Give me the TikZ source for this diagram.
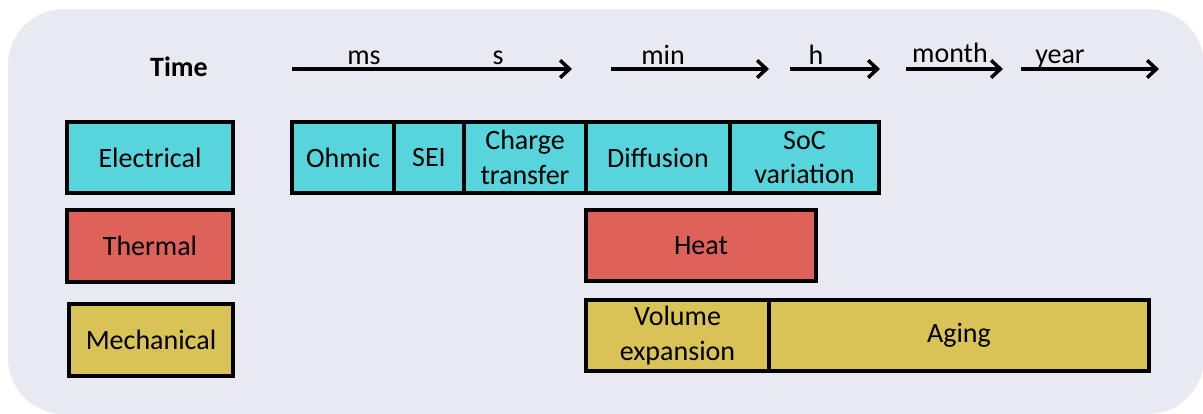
\documentclass[tikz,border=0pt]{standalone}
\usepackage{fontspec}
\setmainfont{Carlito}
\usetikzlibrary{arrows.meta}
\definecolor{bgc}{HTML}{E9E9F1}
\definecolor{elec}{HTML}{58D4DC}
\definecolor{therm}{HTML}{DE615A}
\definecolor{mech}{HTML}{D9C256}
\newcommand\rbox[7]{%
  \pgfmathsetmacro\bxcx{(#3+#5)/2}%
  \pgfmathsetmacro\bxcy{(#4+#6)/2}%
  \pgfmathsetmacro\bxw{(#5-#3)*0.75}%
  \pgfmathsetmacro\bxh{(#6-#4)*0.75}%
  \node[boxst, fill=#2, minimum width=\bxw pt, minimum height=\bxh pt] (#1) at (\bxcx,\bxcy) {#7};}
\begin{document}
\begin{tikzpicture}[x=0.75pt,y=-0.75pt,
  boxst/.style={draw=black, line width=2.3pt, inner sep=0pt, outer sep=0pt, align=center, font=\fontsize{21}{26}\selectfont},
  lbl/.style={anchor=base, inner sep=0pt, font=\fontsize{21}{26}\selectfont},
  tarrow/.style={draw=black, line width=2.6pt, -{Straight Barb[length=7pt,width=13pt]}}]
\useasboundingbox (0,0) rectangle (1203,414);
\fill[bgc, rounded corners=42pt] (8,9) rectangle (1204,414);
% title
\node[lbl, font=\fontsize{21}{26}\selectfont\bfseries] (time) at (179,76) {Time};
% timeline arrows
\coordinate (a1s) at (292,69); \coordinate (a1e) at (572,69);
\coordinate (a2s) at (611,69); \coordinate (a2e) at (769,69);
\coordinate (a3s) at (790,69); \coordinate (a3e) at (880,69);
\coordinate (a4s) at (906,69); \coordinate (a4e) at (1003,69);
\coordinate (a5s) at (1021,69); \coordinate (a5e) at (1159,69);
\draw[tarrow] (a1s) -- (a1e);
\draw[tarrow] (a2s) -- (a2e);
\draw[tarrow] (a3s) -- (a3e);
\draw[tarrow] (a4s) -- (a4e);
\draw[tarrow] (a5s) -- (a5e);
\node[lbl] (tms) at (364,64) {ms};
\node[lbl] (ts) at (498,64) {s};
\node[lbl] (tmin) at (663,64) {min};
\node[lbl] (th) at (816,64) {h};
\node[lbl] (tmonth) at (950,62) {month};
\node[lbl] (tyear) at (1060,63) {year};
% row labels
\rbox{electrical}{elec}{67}{122}{233}{193}{Electrical}
\rbox{thermal}{therm}{67}{210}{233}{282}{Thermal}
\rbox{mechanical}{mech}{69}{304}{233}{376}{Mechanical}
% electrical row
\rbox{ohmic}{elec}{292}{122}{394}{193}{Ohmic}
\rbox{sei}{elec}{394}{122}{464}{193}{SEI}
\rbox{ct}{elec}{464}{122}{586}{193}{Charge\\transfer}
\rbox{diff}{elec}{586}{122}{730}{193}{Diffusion}
\rbox{soc}{elec}{730}{122}{879}{193}{SoC\\variation}
% thermal row
\rbox{heat}{therm}{586}{210}{816}{281}{Heat}
% mechanical row
\rbox{vol}{mech}{586}{300}{769}{371}{Volume\\expansion}
\rbox{aging}{mech}{769}{300}{1149}{371}{Aging}
\end{tikzpicture}
\end{document}
